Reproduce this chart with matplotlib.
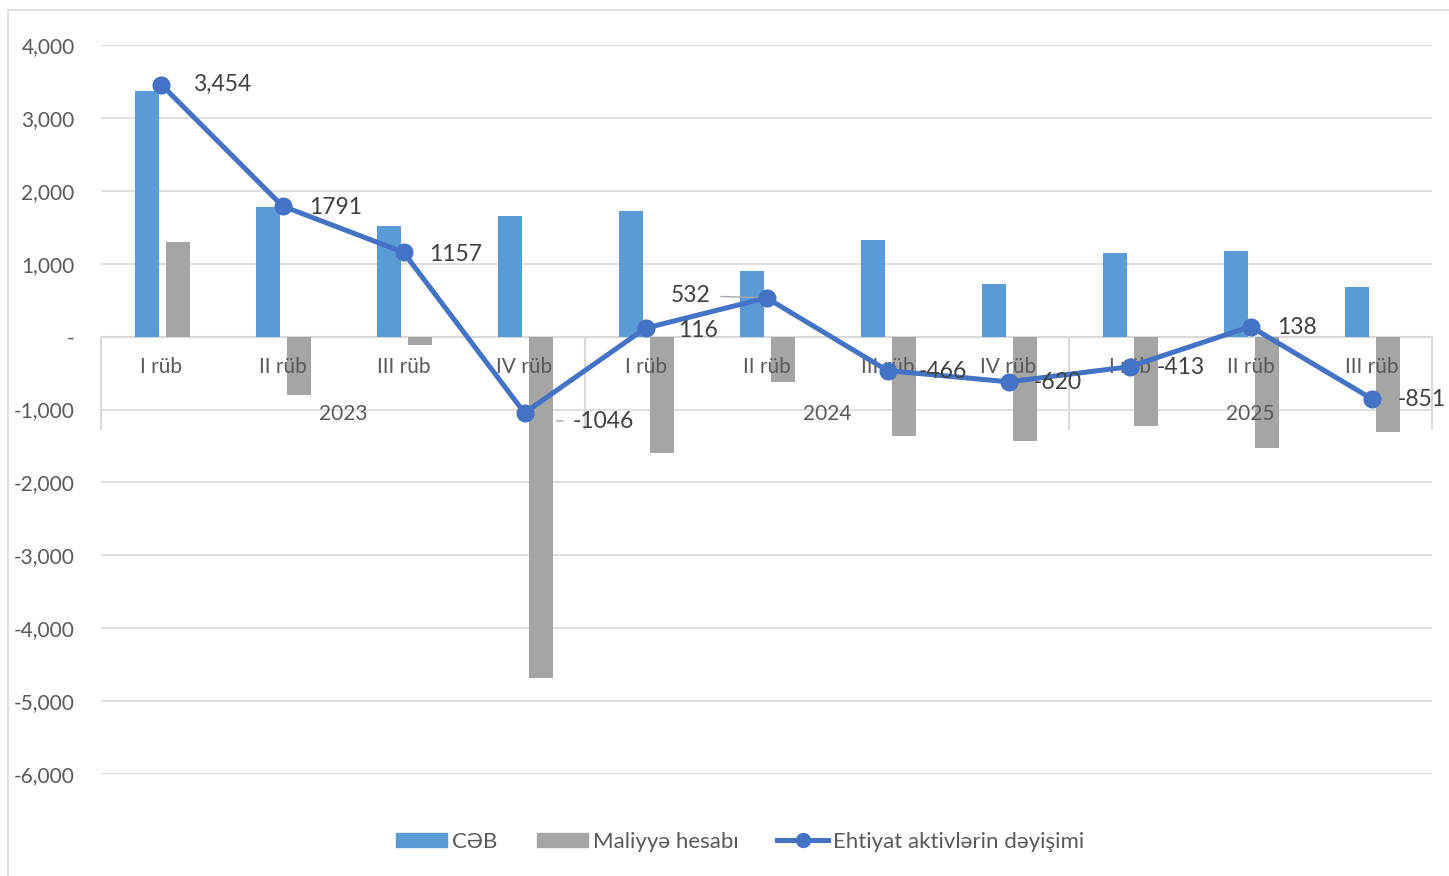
import matplotlib.pyplot as plt
import matplotlib.patches as mpatches
from matplotlib.lines import Line2D
import numpy as np

plt.rcParams['font.family'] = ['Lato', 'DejaVu Sans']

# data
quarters = ['I rüb', 'II rüb', 'III rüb', 'IV rüb',
            'I rüb', 'II rüb', 'III rüb', 'IV rüb',
            'I rüb', 'II rüb', 'III rüb']
years = ['2023', '2024', '2025']
year_counts = [4, 4, 3]
ceb = [3375, 1783, 1523, 1660, 1728, 905, 1330, 727, 1152, 1180, 686]
maliyye = [1303, -796, -110, -4678, -1591, -617, -1358, -1427, -1221, -1523, -1303]
ehtiyat = [3454, 1791, 1157, -1046, 116, 532, -466, -620, -413, 138, -851]
ehtiyat_labels = ['3,454', '1791', '1157', '-1046', '116', '532', '-466', '-620', '-413', '138', '-851']

# label offsets in pixels (dx, dy)
label_offsets = [(32, 0), (27, -1), (26, -2), (48, -9), (33, -2), (-96, 2),
                 (31, -1), (25, -1), (27, -1), (27, -1), (26, -1)]

blue = '#5B9BD5'
gray = '#A5A5A5'
line_c = '#4472C4'
grid_c = '#D9D9D9'
txt_c = '#595959'
lbl_c = '#404040'

fig = plt.figure(figsize=(14.49, 8.76), dpi=100)
ax = fig.add_axes([0.0697, 0.1164, 0.9186, 0.8322])

x = np.arange(len(quarters))
w = 0.2
ax.bar(x - 0.12, ceb, width=w, color=blue, zorder=2, label='CƏB')
ax.bar(x + 0.135, maliyye, width=w, color=gray, zorder=2, label='Maliyyə hesabı')
ax.plot(x, ehtiyat, color=line_c, lw=3.6, marker='o', markersize=12, zorder=4,
        label='Ehtiyat aktivlərin dəyişimi')

for i, (v, s) in enumerate(zip(ehtiyat, ehtiyat_labels)):
    dx, dy = label_offsets[i]
    ax.annotate(s, (x[i], v), xytext=(dx, dy), textcoords='offset pixels',
                ha='left', va='center', fontsize=16.5, color=lbl_c, zorder=5)

# leader lines for -1046 and 532
ax.annotate('', (x[3] + 0.24, ehtiyat[3] - 110), xytext=(x[3] + 0.34, ehtiyat[3] - 110),
            arrowprops=dict(arrowstyle='-', color='#A6A6A6', lw=1))
ax.annotate('', (x[5], ehtiyat[5]), xytext=(x[5] - 0.4, ehtiyat[5] + 20),
            arrowprops=dict(arrowstyle='-', color='#A6A6A6', lw=1))

ax.set_xlim(-0.5, len(quarters) - 0.5)
ax.set_ylim(-6000, 4000)
ax.set_yticks(np.arange(-6000, 4001, 1000))
ax.set_yticklabels(['-' if t == 0 else f'{t:,}' for t in range(-6000, 4001, 1000)])
ax.tick_params(axis='y', length=0, pad=19, labelsize=15, labelcolor=txt_c)
ax.set_xticks([])
ax.grid(axis='y', color=grid_c, lw=1.2, zorder=0)
ax.axhline(0, color=grid_c, lw=1.5, zorder=1)
for sp in ax.spines.values():
    sp.set_visible(False)

# category labels and year groups
for i, q in enumerate(quarters):
    ax.text(x[i], -411, q, ha='center', va='center', fontsize=15, color=txt_c, zorder=3)
start = 0
seps = [-0.5]
for yr, n in zip(years, year_counts):
    ax.text(start + (n - 1) / 2, -1060, yr, ha='center', va='center', fontsize=15,
            color=txt_c, zorder=3)
    start += n
    seps.append(start - 0.5)
for s in seps:
    ax.plot([s, s], [0, -1270], color=grid_c, lw=1.5, zorder=1, clip_on=False)

handles = [mpatches.Patch(color=blue, label='CƏB'),
           mpatches.Patch(color=gray, label='Maliyyə hesabı'),
           Line2D([0], [0], color=line_c, lw=3.6, marker='o', markersize=10,
                  label='Ehtiyat aktivlərin dəyişimi')]
fig.legend(handles=handles, loc='center', bbox_to_anchor=(0.511, 0.039), ncol=3,
           frameon=False, fontsize=16, labelcolor=txt_c, handlelength=2.3,
           handleheight=0.6, handletextpad=0.22, columnspacing=1.75)

fig.add_artist(mpatches.Rectangle((8 / 1449, -0.01), 1.1, 1 - 10 / 876 + 0.01,
                                  transform=fig.transFigure, fill=False,
                                  edgecolor=grid_c, lw=1.2))

fig.savefig('out.png', dpi=100)
